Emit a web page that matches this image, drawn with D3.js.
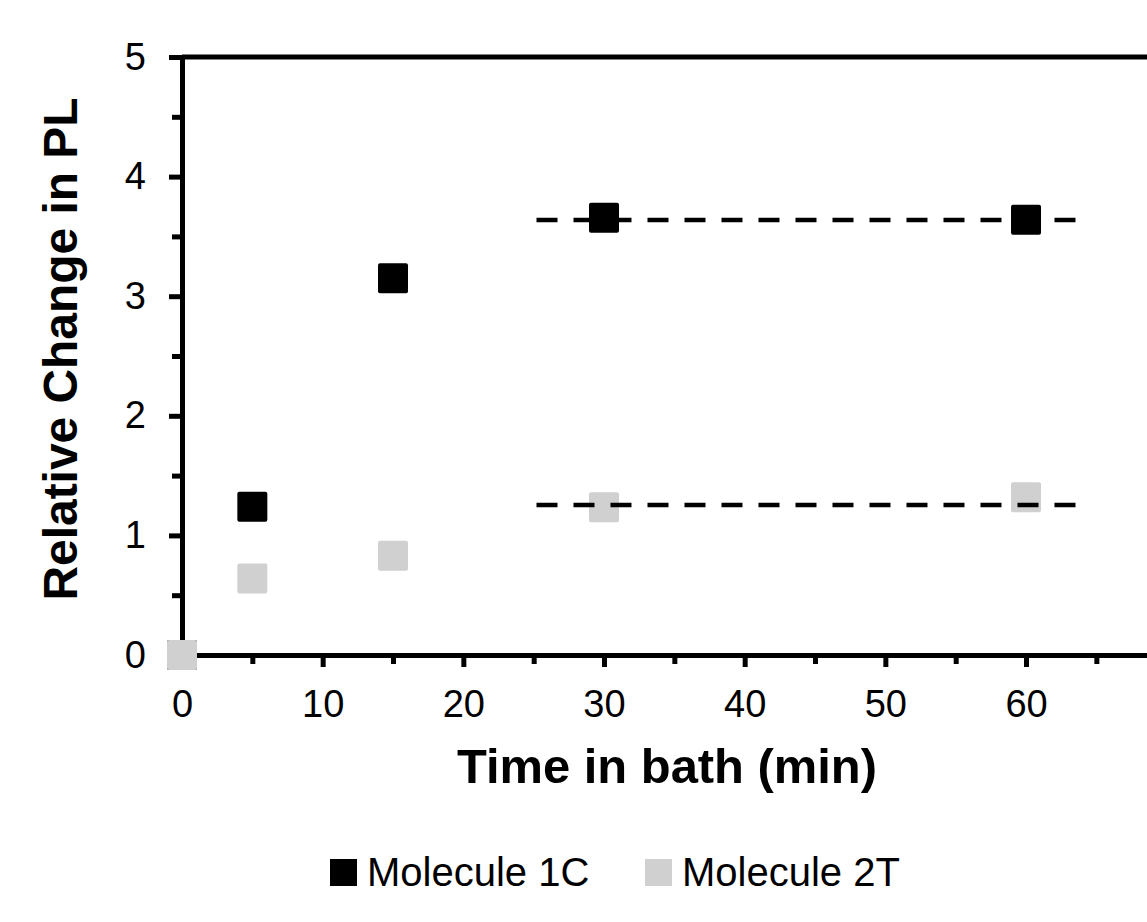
<!DOCTYPE html>
<html>
<head>
<meta charset="utf-8">
<script src="https://cdn.jsdelivr.net/npm/d3@7"></script>
<style>
  html, body { margin: 0; padding: 0; background: #fff; overflow: hidden; }
  text { font-family: "Liberation Sans", Arial, sans-serif; fill: #000; }
</style>
</head>
<body>
<div id="chart"></div>
<script>
// values
const times = [0, 5, 15, 30, 60];
const mol1C = [0, 1.24, 3.15, 3.655, 3.64];
const mol2T = [0, 0.64, 0.83, 1.235, 1.32];
const seriesNames = ['Molecule 1C', 'Molecule 2T'];
const seriesColors = ['#000000', '#d0d0d0'];
const plateauRange = [25.2, 63.8];
const plateauValues = [3.637, 1.254];
const xMajorTicks = [0, 10, 20, 30, 40, 50, 60];
const xMinorTicks = [5, 15, 25, 35, 45, 55, 65];
const yMajorTicks = [0, 1, 2, 3, 4, 5];
const yMinorTicks = [0.5, 1.5, 2.5, 3.5, 4.5];

(function(){
    const fullWidth = 1147;
    const fullHeight = 922;

    const svg = d3.select('#chart')
        .append('svg')
            .attr('width', fullWidth)
            .attr('height', fullHeight);

    const xScale = d3.scaleLinear()
        .domain([0, 70])
        .range([182, 182 + 70 * 14.067]);

    const yScale = d3.scaleLinear()
        .domain([0, 5])
        .range([655, 57]);

    const lw = 5;

    // minor ticks first (no labels)
    svg.append('g')
            .attr('transform', `translate(0, ${yScale(0)})`)
        .call(d3.axisBottom(xScale).tickValues(xMinorTicks).tickSize(9).tickFormat(''))
        .call(g => g.select('.domain').remove())
        .selectAll('line').attr('stroke-width', lw);

    svg.append('g')
            .attr('transform', `translate(${xScale(0)}, 0)`)
        .call(d3.axisLeft(yScale).tickValues(yMinorTicks).tickSize(10).tickFormat(''))
        .call(g => g.select('.domain').remove())
        .selectAll('line').attr('stroke-width', lw);

    // major axes
    const xAxis = svg.append('g')
            .attr('transform', `translate(0, ${yScale(0)})`)
        .call(d3.axisBottom(xScale).tickValues(xMajorTicks).tickSize(12).tickSizeOuter(0).tickPadding(23).tickFormat(d3.format('d')));
    xAxis.select('.domain').attr('stroke-width', lw);
    xAxis.selectAll('line').attr('stroke-width', lw);
    xAxis.selectAll('text').attr('font-size', 38).style('font-family', '"Liberation Sans", Arial, sans-serif');

    const yAxis = svg.append('g')
            .attr('transform', `translate(${xScale(0)}, 0)`)
        .call(d3.axisLeft(yScale).tickValues(yMajorTicks).tickSize(13).tickSizeOuter(0).tickPadding(23).tickFormat(d3.format('d')));
    yAxis.select('.domain').attr('stroke-width', lw);
    yAxis.selectAll('line').attr('stroke-width', lw);
    yAxis.selectAll('text').attr('font-size', 38).style('font-family', '"Liberation Sans", Arial, sans-serif');

    // top and right frame
    svg.append('line')
        .attr('x1', xScale(0)).attr('x2', xScale(70))
        .attr('y1', yScale(5)).attr('y2', yScale(5))
        .attr('stroke', '#000').attr('stroke-width', lw);
    svg.append('line')
        .attr('x1', xScale(70)).attr('x2', xScale(70))
        .attr('y1', yScale(0)).attr('y2', yScale(5))
        .attr('stroke', '#000').attr('stroke-width', lw);

    // markers
    const size = 30;
    [mol1C, mol2T].forEach((vals, i) => {
        svg.append('g')
            .selectAll('rect')
            .data(times.map((t, j) => ({t: t, v: vals[j]})))
            .enter()
            .append('rect')
                .attr('x', d => xScale(d.t) - size / 2)
                .attr('y', d => yScale(d.v) - size / 2)
                .attr('width', size)
                .attr('height', size)
                .attr('rx', 2)
                .attr('fill', seriesColors[i]);
    });

    // plateau dashed lines
    svg.selectAll('.plateau')
        .data(plateauValues)
        .enter()
        .append('line')
            .attr('class', 'plateau')
            .attr('x1', xScale(plateauRange[0]))
            .attr('x2', xScale(plateauRange[1]))
            .attr('y1', d => yScale(d))
            .attr('y2', d => yScale(d))
            .attr('stroke', '#000')
            .attr('stroke-width', 4.5)
            .attr('stroke-dasharray', '21,16');

    // axis titles
    svg.append('text')
        .attr('x', 667)
        .attr('y', 783)
        .attr('text-anchor', 'middle')
        .attr('font-size', 48)
        .attr('font-weight', 'bold')
        .attr('textLength', 420)
        .attr('lengthAdjust', 'spacingAndGlyphs')
        .text('Time in bath (min)');

    svg.append('text')
        .attr('transform', 'translate(77, 349) rotate(-90)')
        .attr('text-anchor', 'middle')
        .attr('font-size', 48)
        .attr('font-weight', 'bold')
        .attr('textLength', 503)
        .attr('lengthAdjust', 'spacingAndGlyphs')
        .text('Relative Change in PL');

    // legend
    const legendX = [330, 645];
    const legend = svg.selectAll('.legend')
        .data(seriesNames)
        .enter()
        .append('g')
            .attr('class', 'legend')
            .attr('transform', (d, i) => `translate(${legendX[i]}, 859)`);

    legend.append('rect')
        .attr('width', 27)
        .attr('height', 27)
        .attr('fill', (d, i) => seriesColors[i]);

    legend.append('text')
        .attr('x', 37)
        .attr('y', 27)
        .attr('font-size', 40)
        .text(d => d);
}())
</script>
</body>
</html>
